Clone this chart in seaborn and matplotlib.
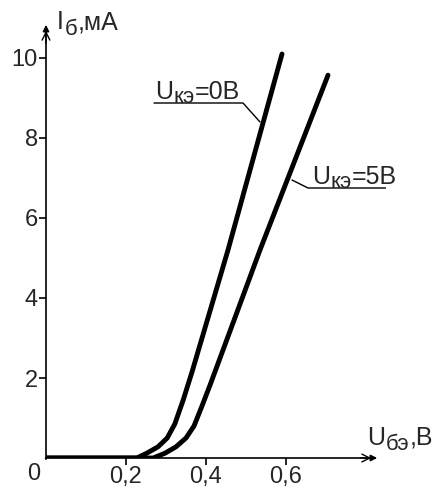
import matplotlib
matplotlib.use("Agg")
import matplotlib.pyplot as plt
import seaborn as sns
import pandas as pd

# Data
u_be_0 = [0.0, 0.227, 0.252, 0.28, 0.303, 0.322, 0.343, 0.365, 0.455, 0.59]
i_b_0 = [0.0, 0.0, 0.12, 0.28, 0.5, 0.85, 1.45, 2.15, 5.2, 10.1]
u_be_5 = [0.0, 0.268, 0.2975, 0.325, 0.35, 0.37, 0.39, 0.41, 0.535, 0.705]
i_b_5 = [0.0, 0.0, 0.12, 0.28, 0.5, 0.8, 1.3, 1.82, 5.2, 9.57]

x_ticks = [0.2, 0.4, 0.6]
x_tick_labels = ["0,2", "0,4", "0,6"]
y_ticks = [2, 4, 6, 8, 10]
y_tick_labels = ["2", "4", "6", "8", "10"]

sns.set_style("white")
plt.rcParams["font.family"] = ["Liberation Sans", "DejaVu Sans"]

df0 = pd.DataFrame({"U": u_be_0, "I": i_b_0})
df5 = pd.DataFrame({"U": u_be_5, "I": i_b_5})

fig = plt.figure(figsize=(4.41, 4.94), dpi=100)
ax = fig.add_axes([46 / 441, 36 / 494, 0.85 * 400 / 441, 11 * 40 / 494])
ax.set_xlim(0, 0.85)
ax.set_ylim(0, 11)

lw = 3.5
sns.lineplot(data=df0, x="U", y="I", ax=ax, color="black", linewidth=lw,
             sort=False, estimator=None, solid_joinstyle="round", solid_capstyle="round")
sns.lineplot(data=df5, x="U", y="I", ax=ax, color="black", linewidth=lw,
             sort=False, estimator=None, solid_joinstyle="round", solid_capstyle="round")

for s in ax.spines.values():
    s.set_visible(False)

# axes with arrows
ax.annotate("", xy=(0.835, 0), xytext=(-0.008, 0),
            arrowprops=dict(arrowstyle="-|>", lw=1.2, color="black",
                            mutation_scale=9), annotation_clip=False)
ax.annotate("", xy=(0, 10.9), xytext=(0, -0.1),
            arrowprops=dict(arrowstyle="-|>", lw=1.2, color="black",
                            mutation_scale=9), annotation_clip=False)
ax.annotate("", xy=(0.82, 0), xytext=(0.78, 0),
            arrowprops=dict(arrowstyle="->", lw=1.0, color="black",
                            mutation_scale=14), annotation_clip=False)
ax.annotate("", xy=(0, 10.75), xytext=(0, 10.3),
            arrowprops=dict(arrowstyle="->", lw=1.0, color="black",
                            mutation_scale=14), annotation_clip=False)

ax.set_xticks(x_ticks)
ax.set_xticklabels(x_tick_labels)
ax.set_yticks(y_ticks)
ax.set_yticklabels(y_tick_labels)
ax.tick_params(axis="both", which="both", length=5, width=1.2, color="black",
               labelsize=17, pad=1, direction="out", bottom=True, left=True)
ax.set_xlabel("")
ax.set_ylabel("")

ax.text(-0.014, -0.12, "0", ha="right", va="top", fontsize=17)


def pieces(x, y, parts):
    """parts: list of (text, fontsize, dy in points, dx in points)"""
    first = None
    prev = None
    for s, fs, dy, dx in parts:
        if first is None:
            first = ax.text(x, y, s, fontsize=fs, ha="left", va="baseline")
            prev = first
        else:
            prev = ax.annotate(s, xy=(1, 0), xycoords=(prev, first),
                               xytext=(dx, dy), textcoords="offset points",
                               fontsize=fs, ha="left", va="bottom")
    return first


fs = 18
sub = 16
pieces(0.027, 10.72, [("I", fs, 0, 0), ("б", sub, -4, 1), (",мА", fs, 0, 0)])
pieces(0.8025, 0.33, [("U", fs, 0, 0), ("бэ", sub, -3.5, 0.5), (",В", fs, 0, 0)])

ax.plot([0.27, 0.4925, 0.535], [8.875, 8.875, 8.4], color="black", lw=1.0)
pieces(0.2725, 8.97, [("U", fs, 0, 0), ("кэ", sub, -3, 0.5), ("=0В", fs, 0, 0)])
ax.plot([0.615, 0.655, 0.8975], [6.95, 6.75, 6.75], color="black", lw=1.0)
pieces(0.665, 6.85, [("U", fs, 0, 0), ("кэ", sub, -3, 0.5), ("=5В", fs, 0, 0)])

fig.savefig("out.png", dpi=100)
